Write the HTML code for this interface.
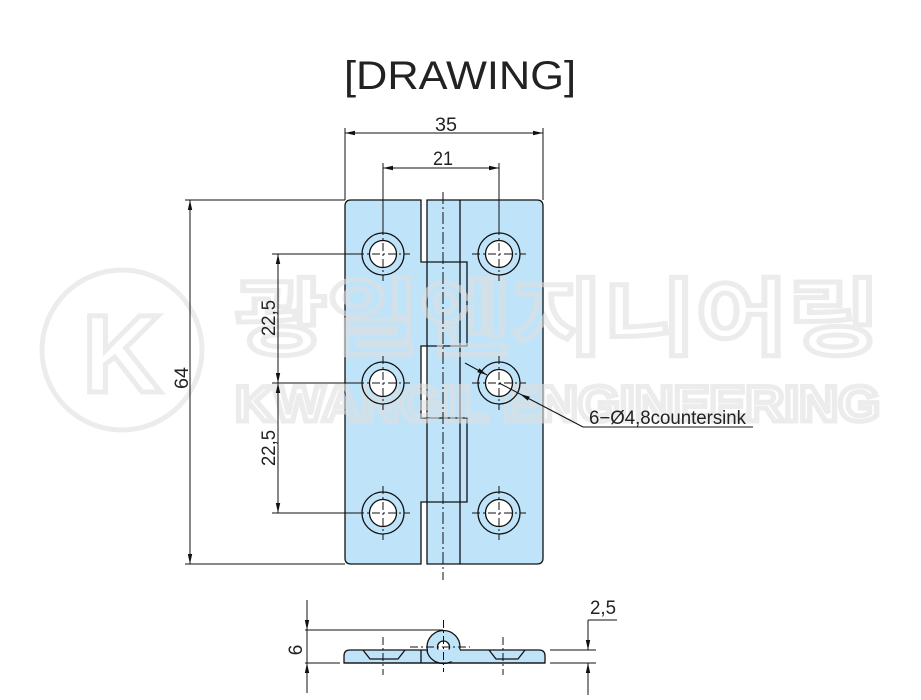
<!DOCTYPE html>
<html><head><meta charset="utf-8"><style>html,body{margin:0;padding:0;background:#fff}svg{display:block}</style></head>
<body>
<svg width="921" height="700" viewBox="0 0 921 700" xmlns="http://www.w3.org/2000/svg" font-family="Liberation Sans, Noto Sans CJK KR, sans-serif">
<defs>
<marker id="a" viewBox="0 0 10 6" refX="10" refY="3" markerWidth="10" markerHeight="6" orient="auto-start-reverse" markerUnits="userSpaceOnUse"><path d="M0,0.8 L10,3 L0,5.2z" fill="#111"/></marker>
</defs>
<text x="460" y="89" font-size="40" text-anchor="middle" fill="#222" textLength="232" lengthAdjust="spacingAndGlyphs">[DRAWING]</text>

<g stroke="#111" stroke-width="1.3" fill="#bfe3f8">
<path d="M421,200 L351,200 Q345,200 345,206 L345,558 Q345,564 351,564 L421,564 L421,502 L467,502 L467,418 L421,418 L421,346 L467,346 L467,262 L421,262 Z"/>
<path d="M427,200 L537,200 Q543,200 543,206 L543,558 Q543,564 537,564 L427,564 Z"/>
<path d="M427,262 L467,262 L467,346 L427,346 M427,418 L467,418 L467,502 L427,502" fill="none"/>
<line x1="460" y1="200" x2="460" y2="564"/>
</g>
<!-- watermark (on top, translucent) -->
<g fill="none" stroke="#e0e0e0" stroke-width="5" opacity="0.6">
<circle cx="122" cy="350" r="80"/>
<text x="122" y="392" font-size="110" text-anchor="middle" font-weight="bold">K</text>
<text x="235" y="348" font-size="84" font-weight="bold" textLength="645" lengthAdjust="spacingAndGlyphs">광일엔지니어링</text>
<text x="235" y="421" font-size="50" font-weight="bold" textLength="645" lengthAdjust="spacingAndGlyphs">KWANGIL ENGINEERING</text>
</g>
<line x1="443" y1="192" x2="443" y2="580" stroke="#111" stroke-width="1" stroke-dasharray="12,3,2,3"/>
<g stroke="#111" stroke-width="1.3">
<g id="h"><circle cx="383" cy="254" r="21" fill="none"/><circle cx="383" cy="254" r="13.5" fill="#fff"/></g>
<use href="#h" x="116"/><use href="#h" y="129"/><use href="#h" x="116" y="129"/><use href="#h" y="259"/><use href="#h" x="116" y="259"/>
</g>
<g stroke="#111" stroke-width="1" stroke-dasharray="8,3,2,3">
<path d="M356,254H410M472,254H526M356,383H410M472,383H526M356,513H410M472,513H526"/>
<path d="M383,227V281M499,227V281M383,356V410M499,356V410M383,486V540M499,486V540"/>
</g>
<g stroke="#111" stroke-width="1" fill="none">
<path d="M345,128V200M543,128V200M383,163V227M499,163V227"/>
<line x1="345" y1="133" x2="543" y2="133" marker-start="url(#a)" marker-end="url(#a)"/>
<line x1="383" y1="168" x2="499" y2="168" marker-start="url(#a)" marker-end="url(#a)"/>
<path d="M185,200H345M185,564H345M272,254H356M272,383H356M272,513H356"/>
<line x1="190" y1="200" x2="190" y2="564" marker-start="url(#a)" marker-end="url(#a)"/>
<line x1="278" y1="254" x2="278" y2="383" marker-start="url(#a)" marker-end="url(#a)"/>
<line x1="278" y1="383" x2="278" y2="513" marker-start="url(#a)" marker-end="url(#a)"/>
<line x1="465" y1="363" x2="487" y2="375" marker-end="url(#a)"/>
<line x1="583" y1="427" x2="520" y2="394" marker-end="url(#a)"/>
<line x1="520" y1="394" x2="499" y2="383"/>
<path d="M583,427H753"/>
</g>
<g fill="#222" font-size="19">
<text x="446" y="131" text-anchor="middle" textLength="22" lengthAdjust="spacingAndGlyphs">35</text>
<text x="443" y="165" text-anchor="middle" textLength="20" lengthAdjust="spacingAndGlyphs">21</text>
<text transform="translate(188,378) rotate(-90)" text-anchor="middle" textLength="22" lengthAdjust="spacingAndGlyphs">64</text>
<text transform="translate(275,318) rotate(-90)" text-anchor="middle" textLength="36" lengthAdjust="spacingAndGlyphs">22,5</text>
<text transform="translate(275,448) rotate(-90)" text-anchor="middle" textLength="36" lengthAdjust="spacingAndGlyphs">22,5</text>
<text x="589" y="424" textLength="157" lengthAdjust="spacingAndGlyphs">6−Ø4,8countersink</text>
<text transform="translate(302,650) rotate(-90)" text-anchor="middle">6</text>
<text x="590" y="614" textLength="26" lengthAdjust="spacingAndGlyphs">2,5</text>
</g>
<g stroke="#111" stroke-width="1.3" fill="#bfe3f8">
<path d="M344,663 L344,656 Q344,650 350,650 L440,650 L440,663 Z"/>
<path d="M460,650 L539,650 Q545,650 545,656 L545,663 L440,663 Z"/>
<circle cx="443.5" cy="647" r="16.5"/>
<path d="M421,650V663" fill="none"/>
<circle cx="443.5" cy="647" r="6" fill="#fff"/>
<path d="M363,650L370,659H398L405,650M489,650L496,659H518L525,650" fill="none"/>
</g>
<rect x="428" y="649.5" width="32" height="12" fill="#bfe3f8"/>
<path d="M344,663H545M427,651A16.5,16.5 0 0 0 443.5,663.5" stroke="#111" stroke-width="1.3" fill="none"/>
<g stroke="#111" stroke-width="1" fill="none">
<path d="M370,659H398M496,659H518" stroke-dasharray="3,2"/>
<path d="M443.5,620V672M383,637V675M503,637V675M410,647H470" stroke-dasharray="8,3,2,3"/>
<path d="M305,630H443M305,663H340M550,650H596M550,663H596M588,620H617"/>
<line x1="307" y1="600" x2="307" y2="630" marker-end="url(#a)"/>
<line x1="307" y1="693" x2="307" y2="663" marker-end="url(#a)"/>
<line x1="307" y1="630" x2="307" y2="663"/>
<line x1="588" y1="620" x2="588" y2="650" marker-end="url(#a)"/>
<line x1="588" y1="695" x2="588" y2="663" marker-end="url(#a)"/>
</g>
</svg>
</body></html>
